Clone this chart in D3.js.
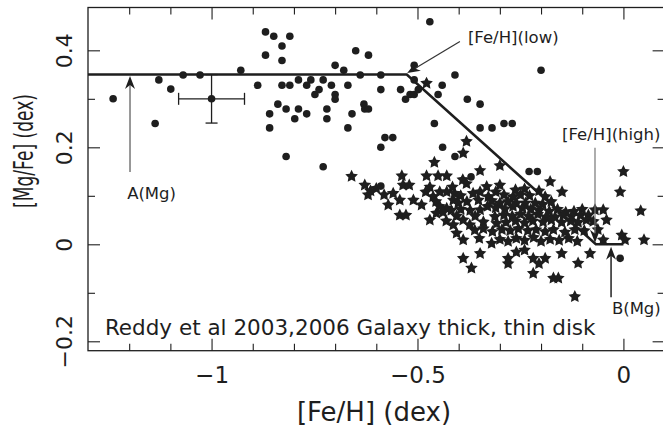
<!DOCTYPE html>
<html><head><meta charset="utf-8">
<script src="https://cdn.jsdelivr.net/npm/d3@7"></script>
<style>html,body{margin:0;padding:0;background:#fff;} svg{display:block;}</style>
</head><body>
<svg id="chart" width="663" height="429"></svg>
<script>
// ---------- data ----------
const xMajorTicks = [-1, -0.5, 0];
const xTickLabels = ["\u22121", "\u22120.5", "0"];
const xMinorTicks = [-1.2, -1.1, -0.9, -0.8, -0.7, -0.6, -0.4, -0.3, -0.2, -0.1];
const yMajorTicks = [-0.2, 0, 0.2, 0.4];
const yTickLabels = ["\u22120.2", "0", "0.2", "0.4"];
const yMinorTicks = [-0.1, 0.1, 0.3];

const xTitle = "[Fe/H] (dex)";
const yTitle = "[Mg/Fe] (dex)";
const caption = "Reddy et al 2003,2006 Galaxy thick, thin disk";

// thick disk (filled circles): [Fe/H], [Mg/Fe]
const thickDisk = [
 [-1.239,0.300],[-1.137,0.249],[-1.128,0.339],[-1.099,0.320],[-1.069,0.349],[-1.028,0.349],
 [-0.929,0.359],[-0.888,0.328],[-0.869,0.438],[-0.849,0.429],[-0.810,0.429],[-0.829,0.409],
 [-0.869,0.390],[-0.829,0.379],[-0.829,0.328],[-0.810,0.328],[-0.839,0.289],[-0.859,0.269],
 [-0.859,0.240],[-0.819,0.279],[-0.798,0.259],[-0.789,0.279],[-0.769,0.269],[-0.819,0.181],
 [-0.789,0.339],[-0.769,0.328],[-0.759,0.339],[-0.749,0.309],[-0.739,0.319],[-0.729,0.339],
 [-0.729,0.160],[-0.720,0.279],[-0.720,0.259],[-0.709,0.328],[-0.700,0.369],[-0.700,0.309],
 [-0.700,0.299],[-0.679,0.359],[-0.669,0.328],[-0.659,0.269],[-0.669,0.240],[-0.650,0.399],
 [-0.639,0.349],[-0.630,0.289],[-0.628,0.279],[-0.619,0.279],[-0.619,0.390],[-0.589,0.349],
 [-0.589,0.319],[-0.579,0.220],[-0.560,0.220],[-0.589,0.200],[-0.541,0.319],[-0.589,0.120],
 [-0.529,0.299],[-0.518,0.309],[-0.508,0.309],[-0.508,0.369],[-0.508,0.339],[-0.498,0.319],
 [-0.470,0.459],[-0.440,0.328],[-0.450,0.309],[-0.409,0.349],[-0.459,0.249],[-0.439,0.200],
 [-0.409,0.181],[-0.379,0.299],[-0.348,0.289],[-0.348,0.240],[-0.319,0.240],[-0.290,0.249],
 [-0.270,0.249],[-0.200,0.359],[-0.370,0.139],[-0.229,0.150],[-0.209,0.150],[-0.008,-0.029]
];

// thin disk (filled stars): [Fe/H], [Mg/Fe]
const thinDisk = [
 [-0.478,0.332],[-0.381,0.212],[-0.389,0.188],[-0.459,0.169],[-0.348,0.152],[-0.300,0.162],
 [-0.178,0.129],[-0.149,0.108],[0.000,0.150],[-0.008,0.108],[0.042,0.069],[0.050,0.009],
 [-0.660,0.140],[-0.538,0.141],[-0.478,0.141],[-0.450,0.141],[-0.429,0.141],[-0.390,0.133],[-0.381,0.125],
 [-0.628,0.122],[-0.600,0.115],[-0.535,0.122],[-0.520,0.122],[-0.470,0.118],[-0.415,0.118],[-0.332,0.119],
 [-0.300,0.122],[-0.262,0.112],[-0.240,0.114],[-0.205,0.110],
 [-0.620,0.102],[-0.614,0.110],[-0.581,0.102],[-0.559,0.105],[-0.480,0.108],[-0.462,0.098],[-0.446,0.108],
 [-0.429,0.108],[-0.410,0.105],[-0.395,0.100],[-0.365,0.105],[-0.348,0.108],[-0.328,0.098],[-0.310,0.108],
 [-0.290,0.102],[-0.268,0.098],[-0.250,0.102],[-0.228,0.100],[-0.190,0.098],
 [-0.571,0.081],[-0.543,0.091],[-0.510,0.091],[-0.490,0.081],[-0.455,0.088],[-0.413,0.091],[-0.401,0.085],
 [-0.380,0.088],[-0.352,0.091],[-0.320,0.090],[-0.300,0.085],[-0.280,0.088],[-0.260,0.085],[-0.238,0.085],
 [-0.214,0.085],[-0.196,0.082],[-0.175,0.088],
 [-0.446,0.078],[-0.429,0.074],[-0.454,0.064],[-0.438,0.066],[-0.418,0.070],[-0.395,0.072],[-0.372,0.070],
 [-0.348,0.071],[-0.330,0.078],[-0.310,0.075],[-0.288,0.073],[-0.268,0.078],[-0.245,0.075],[-0.225,0.072],
 [-0.205,0.070],[-0.180,0.068],[-0.160,0.072],[-0.140,0.066],[-0.120,0.068],[-0.100,0.072],[-0.069,0.071],[-0.049,0.071],
 [-0.543,0.060],[-0.528,0.060],[-0.405,0.058],[-0.360,0.058],[-0.312,0.057],[-0.290,0.060],[-0.270,0.058],
 [-0.250,0.062],[-0.230,0.058],[-0.208,0.062],[-0.188,0.056],[-0.166,0.056],[-0.146,0.060],[-0.126,0.058],
 [-0.104,0.060],[-0.085,0.060],
 [-0.470,0.050],[-0.430,0.048],[-0.389,0.050],[-0.373,0.040],[-0.340,0.046],[-0.308,0.043],[-0.285,0.045],
 [-0.262,0.048],[-0.240,0.044],[-0.220,0.048],[-0.195,0.046],[-0.175,0.050],[-0.150,0.045],[-0.128,0.048],
 [-0.110,0.045],[-0.090,0.050],[-0.073,0.047],[-0.041,0.050],
 [-0.413,0.040],[-0.405,0.023],[-0.361,0.029],[-0.340,0.032],[-0.318,0.026],[-0.295,0.030],[-0.275,0.028],
 [-0.255,0.032],[-0.232,0.028],[-0.212,0.030],[-0.190,0.026],[-0.170,0.030],[-0.142,0.025],[-0.118,0.030],
 [-0.095,0.028],[-0.062,0.030],[-0.004,0.019],
 [-0.389,0.009],[-0.350,0.012],[-0.320,0.002],[-0.300,0.010],[-0.280,0.006],[-0.260,0.012],[-0.240,0.008],
 [-0.218,0.014],[-0.200,0.006],[-0.178,0.010],[-0.156,0.008],[-0.133,0.012],[-0.112,0.006],[-0.049,0.009],[0.004,0.009],
 [-0.389,-0.029],[-0.348,-0.019],[-0.280,-0.029],[-0.260,-0.016],[-0.240,-0.012],[-0.219,-0.029],[-0.190,-0.029],
 [-0.150,-0.019],[-0.081,-0.019],
 [-0.369,-0.049],[-0.280,-0.040],[-0.205,-0.040],[-0.110,-0.039],[-0.219,-0.060],[-0.170,-0.070],[-0.158,-0.070],
 [-0.118,-0.108]
];

// model: plateau, decline, solar plateau
const modelFeH  = [-1.3, -0.526, -0.067, 0.0];
const modelMgFe = [0.35, 0.35, 0.0, 0.0];

// typical error bar
const errFeH = [-1.0], errMgFe = [0.30], errFeHSize = [0.08], errMgFeSize = [0.05];

// annotations: label, label position (data), arrow tail, arrow tip (data)
const annLabels = ["A(Mg)", "[Fe/H](low)", "[Fe/H](high)", "B(Mg)"];
const annLabelPos = [[-1.205, 0.093], [-0.3775, 0.416], [-0.149, 0.215], [-0.028, -0.1437]];
const annTail = [[-1.198, 0.149], [-0.397, 0.418], [-0.069, 0.199], [-0.030, -0.109]];
const annTip  = [[-1.198, 0.347], [-0.525, 0.353], [-0.069, 0.003], [-0.030, -0.005]];
const captionPos = [-1.259, -0.187];

// ---------- drawing ----------
const svg = d3.select("#chart");
const x = d3.scaleLinear().domain([-1.3, 0.1]).range([88, 664.6]);
const y = d3.scaleLinear().domain([-0.2194, 0.4883]).range([350.7, 7.5]);
const ink = "#1e1e1e";
const font = "'DejaVu Sans', sans-serif";
const [x0, x1] = x.range(), [y0, y1] = y.range();

// frame ticks
function ticks(axisFn, pos, vals, len) {
  const g = svg.append("g").attr("transform", pos)
    .call(axisFn.tickValues(vals).tickSizeInner(-len).tickSizeOuter(0).tickFormat(""));
  g.select(".domain").remove();
  g.selectAll("line").attr("stroke", ink).attr("stroke-width", 1.1);
  return g;
}
const gB = ticks(d3.axisBottom(x), `translate(0,${y0})`, xMajorTicks, 12);
ticks(d3.axisBottom(x), `translate(0,${y0})`, xMinorTicks, 7);
ticks(d3.axisTop(x), `translate(0,${y1})`, xMajorTicks, 12);
ticks(d3.axisTop(x), `translate(0,${y1})`, xMinorTicks, 7);
const gL = ticks(d3.axisLeft(y), `translate(${x0},0)`, yMajorTicks, 12);
ticks(d3.axisLeft(y), `translate(${x0},0)`, yMinorTicks, 7);
ticks(d3.axisRight(y), `translate(${x1},0)`, yMajorTicks, 12);
ticks(d3.axisRight(y), `translate(${x1},0)`, yMinorTicks, 7);

// tick labels
gB.selectAll(".tick text")
  .text((d, i) => xTickLabels[i])
  .attr("y", 32).attr("dy", null)
  .attr("fill", ink).attr("font-family", font).attr("font-size", 23).attr("text-anchor", "middle");
gL.selectAll(".tick text")
  .text((d, i) => yTickLabels[i])
  .attr("x", null).attr("dy", null)
  .attr("transform", "translate(-16,0) rotate(-90)")
  .attr("fill", ink).attr("font-family", font).attr("font-size", 22).attr("text-anchor", "middle");

// frame
svg.append("rect").attr("x", x0).attr("y", y1).attr("width", x1 - x0).attr("height", y0 - y1)
  .attr("fill", "none").attr("stroke", ink).attr("stroke-width", 1.3);

// axis titles
svg.append("text").attr("x", 374).attr("y", 421).attr("text-anchor", "middle")
  .attr("font-family", font).attr("font-size", 26).attr("fill", ink).text(xTitle);
svg.append("text").attr("transform", "translate(33,151) rotate(-90)").attr("text-anchor", "middle")
  .attr("font-family", font).attr("font-size", 26).attr("fill", ink)
  .attr("textLength", 114).attr("lengthAdjust", "spacingAndGlyphs").text(yTitle);

// model line
svg.append("path")
  .datum(modelFeH.map((v, i) => [v, modelMgFe[i]]))
  .attr("d", d3.line().x(d => x(d[0])).y(d => y(d[1])))
  .attr("fill", "none").attr("stroke", ink).attr("stroke-width", 2.6).attr("stroke-linejoin", "miter");

// error bar
const eb = svg.append("g").attr("stroke", ink).attr("stroke-width", 1.3);
errFeH.forEach((v, i) => {
  const cx = x(v), cy = y(errMgFe[i]);
  const xl = x(v - errFeHSize[i]), xr = x(v + errFeHSize[i]);
  const yt = y(errMgFe[i] + errMgFeSize[i]), yb = y(errMgFe[i] - errMgFeSize[i]);
  eb.append("line").attr("x1", xl).attr("x2", xr).attr("y1", cy).attr("y2", cy);
  eb.append("line").attr("x1", cx).attr("x2", cx).attr("y1", yt).attr("y2", yb);
  eb.append("line").attr("x1", xl).attr("x2", xl).attr("y1", cy - 6).attr("y2", cy + 6);
  eb.append("line").attr("x1", xr).attr("x2", xr).attr("y1", cy - 6).attr("y2", cy + 6);
  eb.append("line").attr("x1", cx - 6).attr("x2", cx + 6).attr("y1", yt).attr("y2", yt);
  eb.append("line").attr("x1", cx - 6).attr("x2", cx + 6).attr("y1", yb).attr("y2", yb);
  svg.append("circle").attr("cx", cx).attr("cy", cy).attr("r", 3.8).attr("fill", ink);
});

// fat five-pointed star symbol (PGPLOT-like)
const fatStar = {
  draw(ctx, size) {
    const R = Math.sqrt(size), r = R * 0.5;
    for (let k = 0; k < 10; k++) {
      const a = -Math.PI / 2 + k * Math.PI / 5, rad = k % 2 ? r : R;
      const px = Math.cos(a) * rad, py = Math.sin(a) * rad;
      if (k === 0) ctx.moveTo(px, py); else ctx.lineTo(px, py);
    }
    ctx.closePath();
  }
};

// thin disk stars
svg.append("g").selectAll("path").data(thinDisk).join("path")
  .attr("transform", d => `translate(${x(d[0])},${y(d[1])})`)
  .attr("d", d3.symbol(fatStar, 44))
  .attr("fill", ink);

// thick disk circles
svg.append("g").selectAll("circle").data(thickDisk).join("circle")
  .attr("cx", d => x(d[0])).attr("cy", d => y(d[1])).attr("r", 3.8)
  .attr("fill", ink);

// annotations
const arrowStroke = ["#555", "#333", "#777", "#222"];
const arrowWidth = [1.2, 1.2, 1.2, 1.5];
annLabels.forEach((lab, i) => {
  const tx = x(annTail[i][0]), ty = y(annTail[i][1]);
  const px = x(annTip[i][0]), py = y(annTip[i][1]);
  const dx = px - tx, dy = py - ty, L = Math.hypot(dx, dy);
  const ux = dx / L, uy = dy / L, nx = -uy, ny = ux;
  const hl = 13, hw = 5;
  svg.append("line").attr("x1", tx).attr("y1", ty).attr("x2", px - ux * 8).attr("y2", py - uy * 8)
    .attr("stroke", arrowStroke[i]).attr("stroke-width", arrowWidth[i]);
  const pts = [
    [px, py],
    [px - ux * hl + nx * hw, py - uy * hl + ny * hw],
    [px - ux * hl * 0.7, py - uy * hl * 0.7],
    [px - ux * hl - nx * hw, py - uy * hl - ny * hw]
  ];
  svg.append("path").attr("d", "M" + pts.map(p => p.join(",")).join("L") + "Z")
    .attr("fill", ink);
  svg.append("text").attr("x", x(annLabelPos[i][0])).attr("y", y(annLabelPos[i][1]))
    .attr("font-family", font).attr("font-size", 16.5).attr("fill", ink).text(lab);
});

// caption
svg.append("text").attr("x", x(captionPos[0])).attr("y", y(captionPos[1]))
  .attr("font-family", font).attr("font-size", 21.5).attr("fill", ink).text(caption);
</script>
</body></html>
